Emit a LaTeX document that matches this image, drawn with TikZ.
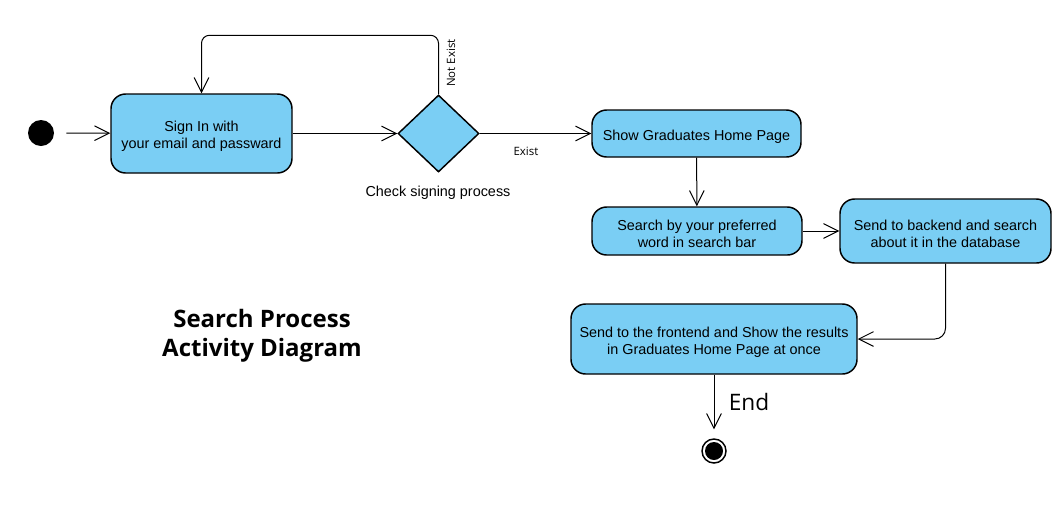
\documentclass[tikz,border=0pt]{standalone}
\usepackage{fontspec}
\setmainfont{Liberation Sans}
\newfontfamily\osans{Open Sans}
\usetikzlibrary{shapes.geometric,arrows.meta,positioning}
\definecolor{actblue}{HTML}{7ACEF4}
\tikzset{
  act/.style={draw=black, line width=1.1pt, fill=actblue, rounded corners=11pt, inner sep=2pt},
  acttext/.style={align=center, font=\fontsize{10.8pt}{12.75pt}\selectfont, yshift=-2.25pt, inner sep=0pt},
  decision/.style={draw=black, line width=1.1pt, fill=actblue, diamond, inner sep=0pt, minimum width=60.75pt, minimum height=57.75pt},
  conn/.style={draw=black, line width=0.75pt, -{Straight Barb[length=11pt,width=11pt,line width=0.75pt]}},
  lbl/.style={font=\fontsize{10.8pt}{12.75pt}\selectfont},
  small/.style={font=\osans\fontsize{8.6pt}{9pt}\selectfont, inner sep=0pt},
}
\begin{document}
\begin{tikzpicture}[x=0.75pt,y=-0.75pt]
\useasboundingbox (0,0) rectangle (1064,515);
% start node
\node[circle, fill=black, minimum size=19.5pt, inner sep=0pt] (init) at (41,133) {};
% activities
\node[act, minimum width=135.75pt, minimum height=59.25pt, label={[acttext]center:Sign In with\\ your email and passward}] (signin) at (201.5,133.5) {};
\node[decision] (dec) at (438.5,133.5) {};
\node[act, minimum width=156.75pt, minimum height=35.25pt, label={[acttext]center:Show Graduates Home Page}] (home) at (696.5,133.5) {};
\node[act, minimum width=157.5pt, minimum height=36pt, label={[acttext]center:Search by your preferred\\ word in search bar}] (search) at (697,231) {};
\node[act, minimum width=158.25pt, minimum height=48pt, label={[acttext]center:Send to backend and search\\ about it in the database}] (back) at (945.5,231) {};
\node[act, minimum width=214.5pt, minimum height=52.5pt, label={[acttext]center:Send to the frontend and Show the results\\ in Graduates Home Page at once}] (front) at (714,339) {};
% final node
\node[circle, draw=black, line width=1.1pt, fill=white, minimum size=18pt, inner sep=0pt] (final) at (714,451) {};
\node[circle, fill=black, minimum size=13.5pt, inner sep=0pt] (finalin) at (714,451) {};
% labels
\node[lbl] (chk) at (438,193) {Check signing process};
\node[small, rotate=90] (notex) at (451,63) {Not Exist};
\node[small] (ex) at (526,151) {Exist};
\node[font=\osans\fontsize{17pt}{18pt}\selectfont, inner sep=0pt] (endlbl) at (749,402) {End};
\node[font=\osans\bfseries\fontsize{18pt}{21.75pt}\selectfont, align=center, inner sep=0pt] (title) at (262,336) {Search Process\\Activity Diagram};
% connectors
\draw[conn, shorten <=9pt] (init) -- (signin);
\draw[conn] (signin) -- (dec);
\draw[conn, rounded corners=6pt] (dec.north) -- ++(0,-59) -| (signin.north);
\draw[conn] (dec) -- (home);
\draw[conn] (home) -- (search);
\draw[conn] (search) -- (back);
\draw[conn, rounded corners=8pt] (back.south) |- (front.east);
\draw[conn, shorten >=6.75pt] (front) -- (final);
\end{tikzpicture}
\end{document}
